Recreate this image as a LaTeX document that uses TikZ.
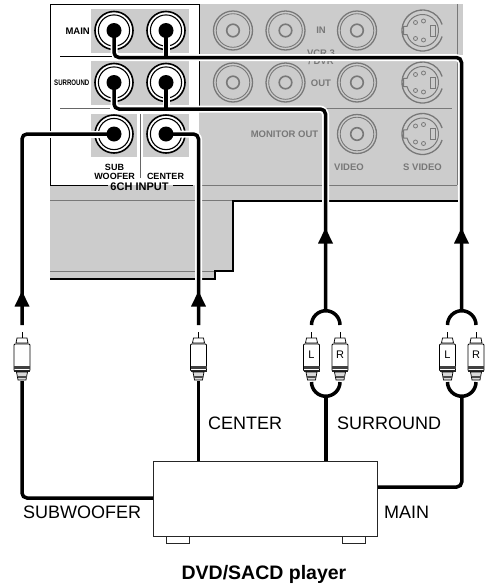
\documentclass[tikz,border=0pt]{standalone}
\usepackage{fontspec}
\setmainfont{Liberation Sans}
\definecolor{panel}{gray}{0.80}
\definecolor{ink}{gray}{0.47}
\newcommand{\fsz}[1]{\fontsize{#1}{#1}\selectfont}
\tikzset{
  wire/.style={draw=black,line width=3.5pt,rounded corners=5pt},
  halo/.style={draw=white,line width=7pt,rounded corners=6pt},
  bigtext/.style={inner sep=0pt,font=\fsz{18}},
  paneltext/.style={inner sep=0pt,font=\fsz{9}\bfseries,align=center,text=black},
  greytext/.style={inner sep=0pt,font=\fsz{9.5}\bfseries,text=ink,align=center},
  thinline/.style={draw=black,line width=1pt},
  greyline/.style={draw=ink,line width=1pt},
  arrowhd/.style={fill=black,draw=none},
  plugline/.style={draw=black,line width=.7pt}
}
% live socket rings: name, x, y
\newcommand{\livesock}[3]{%
  \node[circle,draw=black,fill=white,line width=1.6pt,minimum size=38pt,inner sep=0pt] (#1) at (#2,#3) {};
  \draw[black,line width=1.1pt] (#2,#3) circle (15.6);}
\newcommand{\livedot}[1]{\fill[black] (#1.center) circle (7.5);}
% grey socket
\newcommand{\greysock}[3]{%
  \node[circle,draw=ink,line width=1.3pt,minimum size=39pt,inner sep=0pt] (#1) at (#2,#3) {};
  \draw[ink,line width=.9pt] (#2,#3) circle (16.8);
  \draw[ink,line width=1.6pt] (#2,#3) circle (6.3);}
% S-video socket
\newcommand{\svideo}[3]{%
  \begin{scope}[shift={(#2,#3)}]
    \coordinate (#1) at (0,0);
    \draw[ink,line width=1.3pt] (17:20.5) arc[start angle=17,end angle=343,radius=20.5];
    \draw[ink,line width=1pt] (-165:16) arc[start angle=-165,end angle=165,radius=16] -- (-19,4) -- (-19,-4) -- cycle;
    \draw[ink,line width=.8pt] (-7,-8) circle (2) (1,-9.5) circle (2) (-7,8) circle (2) (1,9.5) circle (2);
    \draw[ink,line width=1pt] (8,-5.5) rectangle (13,5.5);
  \end{scope}}
% RCA plug: name, x, optional label
\newcommand{\plug}[3]{%
  \begin{scope}[shift={(#2,0)}]
    \coordinate (#1) at (0,381);
    \draw[plugline,fill=white,line width=1pt] (0,332) -- (0,338);
    \draw[plugline,fill=white] (-6,343) -- (-5,338) -- (5,338) -- (6,343) -- cycle;
    \draw[plugline,line width=.9pt,fill=white,rounded corners=1pt] (-8,344) rectangle (8,371);
    \fill[black!75] (-8,366) rectangle (8,368.5);
    \fill[black!85] (-8,369.5) rectangle (8,372);
    \draw[plugline,fill=black!15] (-5.5,372) -- (-4,380) -- (4,380) -- (5.5,372) -- cycle;
    \fill[black!70] (-4.5,375.5) rectangle (4.5,378);
    \node[inner sep=0pt,font=\fsz{11}] at (0,355) {#3};
  \end{scope}}
\newcommand{\arrowtip}[2]{\fill[arrowhd] (#1,#2) -- (#1-7.5,#2+15.5) -- (#1+7.5,#2+15.5) -- cycle;}
\begin{document}
\begin{tikzpicture}[x=1pt,y=-1pt]
\useasboundingbox (0,0) rectangle (485,587);
% panel
\fill[panel] (199,4) rectangle (463,55);
\fill[panel] (199,55) rectangle (458,185);
\fill[panel] (50,185) -- (458,185) -- (458,201) -- (233,201) -- (233,271) -- (215,271) -- (215,279) -- (50,279) -- cycle;
\fill[panel] (91,9) rectangle (189,53);
\fill[panel] (91,61) rectangle (189,105);
\fill[panel] (91,114) rectangle (137,157);
\fill[panel] (143,114) rectangle (189,157);
\draw[thinline] (108,185) -- (50,185) -- (50,4) -- (199,4) -- (199,106);
\draw[thinline] (173,185) -- (193,185);
\draw[thinline] (60,56) -- (199,56);
\draw[draw=black!60,line width=1pt] (60,108) -- (110,108);
\draw[draw=black!60,line width=1pt] (140,114) -- (140,178);
\draw[greyline] (199,185) -- (457,185);
\draw[greyline] (457,4) -- (457,55);
\draw[greyline] (457,62) -- (457,185);
\draw[greyline] (199,108) -- (452,108);
\draw[greyline] (50,200.5) -- (233,200.5);
\draw[greyline] (50,271) -- (215,271);
\draw[black,line width=1.3pt] (50,279) -- (215,279) -- (215,271) -- (233,271) -- (233,201) -- (458,201);
% grey sockets
\greysock{gaA}{233}{30.5}\greysock{gaB}{285.5}{30.5}\greysock{gaC}{357}{30.5}
\greysock{gbA}{233}{82.5}\greysock{gbB}{285.5}{82.5}\greysock{gbC}{357}{82.5}
\greysock{gcC}{357}{134}
\svideo{svA}{422.5}{30.5}\svideo{svB}{422.5}{82.5}\svideo{svC}{422.5}{134}
% grey texts
\node[greytext] (tIN) at (321,30.5) {IN};
\node[greytext] (tVCR) at (321,53.5) {VCR 3};
\node[greytext] (tDVR) at (321,61.5) {/ DVR};
\node[greytext] (tOUT) at (321,83) {OUT};
\node[greytext] (tMON) at (284.5,134) {MONITOR OUT};
\node[greytext] (tVID) at (349,167) {VIDEO};
\node[greytext] (tSV) at (422.5,167) {S VIDEO};
% panel texts
\node[paneltext,anchor=east,font=\fsz{9.5}\bfseries] (tMAIN) at (90,31) {MAIN};
\node[paneltext,anchor=east,font=\fsz{8}\bfseries,xscale=.76] (tSUR) at (89.5,83) {SURROUND};
\node[paneltext,font=\fsz{9}\bfseries] (tSUB) at (114.5,171.5) {SUB\\[0pt]WOOFER};
\node[paneltext] (tCEN) at (165.5,176) {CENTER};
\node[paneltext,font=\fsz{11}\bfseries] (t6CH) at (139.5,186.5) {6CH INPUT};
% live sockets
\livesock{mainL}{114}{30.5}\livesock{mainR}{166}{30.5}
\livesock{surL}{114}{82.5}\livesock{surR}{166}{82.5}
\livesock{subS}{114}{134}\livesock{cenS}{166}{134}
% free ends
\coordinate (mainC) at (461.5,57.5);
\coordinate (mainE) at (461.5,311);
\coordinate (surC) at (325.5,109);
\coordinate (surE) at (325.5,311);
\coordinate (subC) at (22,134);
\coordinate (subE) at (22,325);
\coordinate (cenC) at (198.5,134);
\coordinate (cenE) at (198.5,325);
% halos
\draw[halo] (mainL.center) |- (mainC) -- (mainC |- 0,228);
\draw[halo] (mainR.center) -- (mainR |- mainC);
\draw[halo] (surL.center) |- (surC) -- (surC |- 0,228);
\draw[halo] (surR.center) -- (surR |- surC);
\draw[halo] (cenS.center) -- (cenC) -- (cenE |- 0,291);
\draw[halo] (subS.center) -- (50,134);
% wires
\draw[wire] (mainL.center) |- (mainC) -- (mainE);
\draw[wire] (mainR.center) -- (mainR |- mainC);
\draw[wire] (surL.center) |- (surC) -- (surE);
\draw[wire] (surR.center) -- (surR |- surC);
\draw[wire] (subS.center) -- (subC) -- (subE);
\draw[wire] (cenS.center) -- (cenC) -- (cenE);
\livedot{mainL}\livedot{mainR}\livedot{surL}\livedot{surR}\livedot{subS}\livedot{cenS}
\arrowtip{461.5}{228}\arrowtip{325.5}{228}\arrowtip{22}{291}\arrowtip{198.5}{291}
% player
\node[draw=black!85,line width=1.2pt,minimum width=224pt,minimum height=75pt,inner sep=0pt,anchor=north west] (player) at (153,461) {};
\node[draw=black!85,line width=1pt,fill=white,minimum width=23pt,minimum height=7pt,inner sep=0pt,anchor=north west] (footL) at (165.5,536) {};
\node[draw=black!85,line width=1pt,fill=white,minimum width=23pt,minimum height=7pt,inner sep=0pt,anchor=north west] (footR) at (342,536) {};
% plugs
\plug{pSub}{22}{}\plug{pCen}{198.5}{}
\plug{pSL}{311.5}{L}\plug{pSR}{340}{R}
\plug{pML}{447.5}{L}\plug{pMR}{476}{R}
% splits
\draw[black,line width=3.5pt] (311.5,325) arc[start angle=180,end angle=360,radius=14.25];
\draw[black,line width=3.5pt] (447.5,325) arc[start angle=180,end angle=360,radius=14.25];
\draw[black,line width=3.5pt] (311.5,382) arc[start angle=180,end angle=0,radius=14.25];
\draw[black,line width=3.5pt] (447.5,382) arc[start angle=180,end angle=0,radius=14.25];
% lower wires
\draw[wire] (pSub) |- (player.west |- 0,498);
\draw[wire] (pCen) -- (pCen |- player.north);
\draw[wire] (325.75,396) -- (325.75,461);
\draw[wire] (461.75,396) |- (player.east |- 0,487);
% labels
\node[bigtext,anchor=west] (lCEN) at (208,423) {CENTER};
\node[bigtext,anchor=west] (lSUR) at (337,423) {SURROUND};
\node[bigtext,anchor=west] (lMAIN) at (384,512) {MAIN};
\node[bigtext,anchor=west] (lSUB) at (23,512) {SUBWOOFER};
\node[inner sep=0pt,font=\fsz{19.5}\bfseries] (lDVD) at (264,574) {DVD/SACD player};
\end{tikzpicture}
\end{document}
